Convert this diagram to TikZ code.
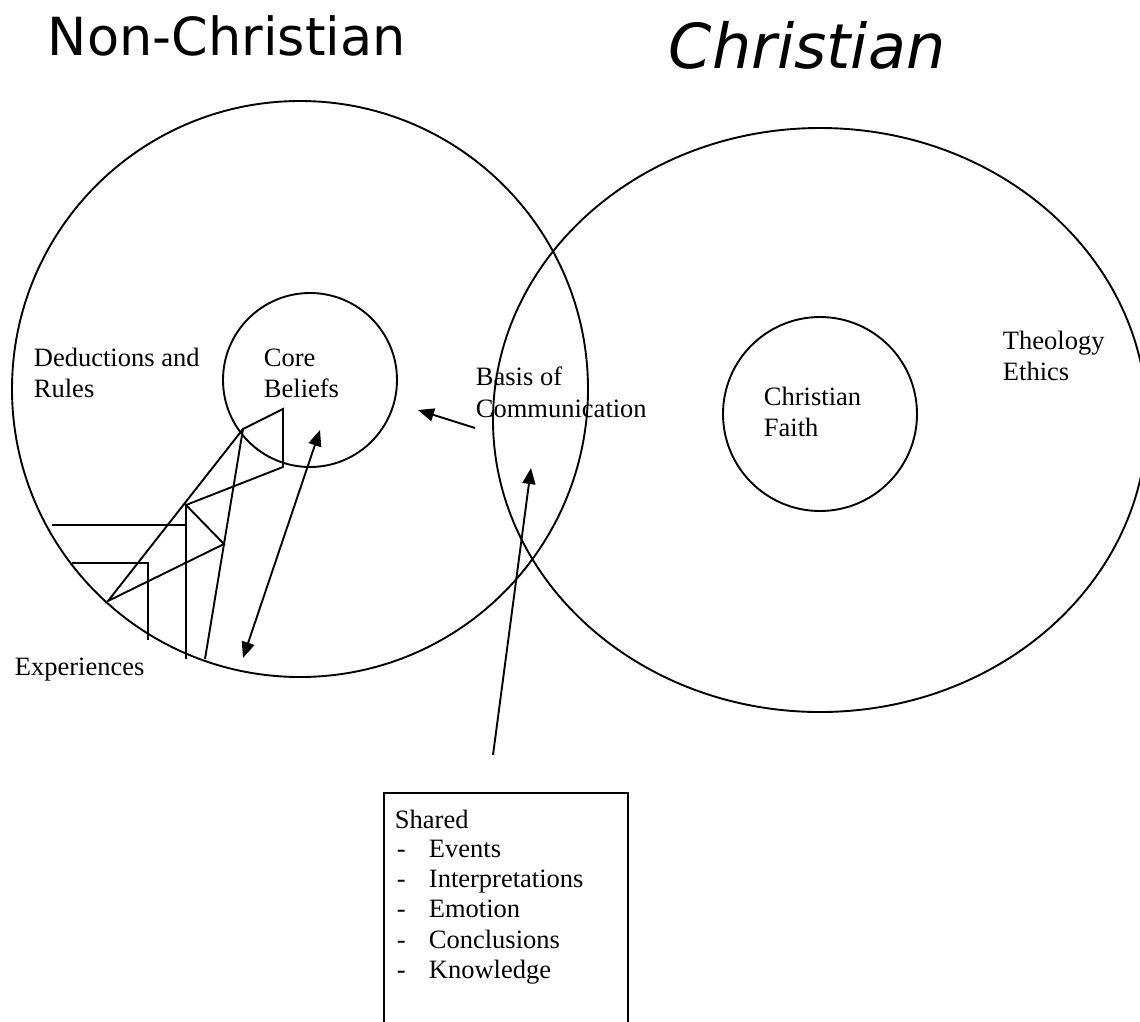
\documentclass[tikz,border=0pt]{standalone}
\usepackage{fontspec}
\setmainfont{Liberation Serif}
\newfontfamily\titlefont{DejaVu Sans}
\usetikzlibrary{arrows.meta,shapes.geometric}
\newcommand\mylines[1]{\begin{tabular}[t]{@{}l@{}}#1\end{tabular}}
\begin{document}
\begin{tikzpicture}[x=1pt,y=-1pt,line width=1.9pt,
  lbl/.style={anchor=base west,inner sep=0pt,font=\fontsize{26.5}{31}\selectfont},
  ttl/.style={anchor=base west,inner sep=0pt},
  ring/.style={draw,circle,inner sep=0pt},
  arr/.style={-{Triangle[length=16pt,width=13pt]}},
  darr/.style={{Triangle[length=16pt,width=13pt]}-{Triangle[length=16pt,width=13pt]}}]
\useasboundingbox (0,0) rectangle (1140,1021);
\clip (0,0) rectangle (1140,1021);
% titles
\node[ttl] (tnc) at (47,55) {\titlefont\fontsize{52.5}{60}\selectfont Non-Christian};
\node[ttl] (tc) at (668,68) {\titlefont\itshape\fontsize{62}{72}\selectfont Christian};
% circles
\node[ring,minimum size=576pt] (nc) at (300,389) {};
\node[draw,ellipse,inner sep=0pt,minimum width=654pt,minimum height=584pt] (ch) at (820,420) {};
\node[ring,minimum size=174pt] (core) at (310,380) {};
\node[ring,minimum size=194pt] (faith) at (820,414) {};
% labels
\node[lbl] (ded) at (33,366) {\mylines{Deductions and\\Rules}};
\node[lbl] (corel) at (263,366) {\mylines{Core\\Beliefs}};
\node[lbl,font=\fontsize{26.5}{32}\selectfont] (basis) at (475,385) {\mylines{Basis of\\Communication}};
\node[lbl] (theo) at (1002,349) {\mylines{Theology\\Ethics}};
\node[lbl] (faithl) at (763,405) {\mylines{Christian\\Faith}};
\node[lbl] (exp) at (14,675) {Experiences};
% staircase
\coordinate (s1) at (108,601);
\coordinate (s2) at (243,429);
\coordinate (s3) at (283,409);
\coordinate (s4) at (283,467);
\coordinate (s5) at (186,505);
\coordinate (s6) at (224,544);
\coordinate (e1) at (205,659);
\coordinate (e2) at (186,659);
\coordinate (h1) at (52,525);
\coordinate (h1e) at (186,525);
\coordinate (h2) at (72,563);
\coordinate (h2c) at (148,563);
\coordinate (h2e) at (148,640);
\draw[line join=miter] (s1)--(s2)--(s3)--(s4)--(s5)--(s6)--cycle;
\draw (s2) -- (e1);
\draw (s5) -- (e2);
\draw (h1) -- (h1e);
\draw (h2) -- (h2c) -- (h2e);
% arrows
\coordinate (da1) at (243,658);
\coordinate (da2) at (320,430);
\draw[darr] (da1) -- (da2);
\coordinate (b1) at (475,428);
\coordinate (b2) at (418,410);
\draw[arr] (b1) -- (b2);
\coordinate (c1) at (493,755);
\coordinate (c2) at (531,468);
\draw[arr] (c1) -- (c2);
% box
\draw (384,1040) -- (384,793) -- (628,793) -- (628,1040);
\node[lbl] (shared) at (394,828) {Shared};
\node[lbl,font=\fontsize{26.5}{30.4}\selectfont] (list) at (396,857) {\begin{tabular}[t]{@{}p{32pt}@{}l@{}}-&Events\\-&Interpretations\\-&Emotion\\-&Conclusions\\-&Knowledge\end{tabular}};
\end{tikzpicture}
\end{document}
